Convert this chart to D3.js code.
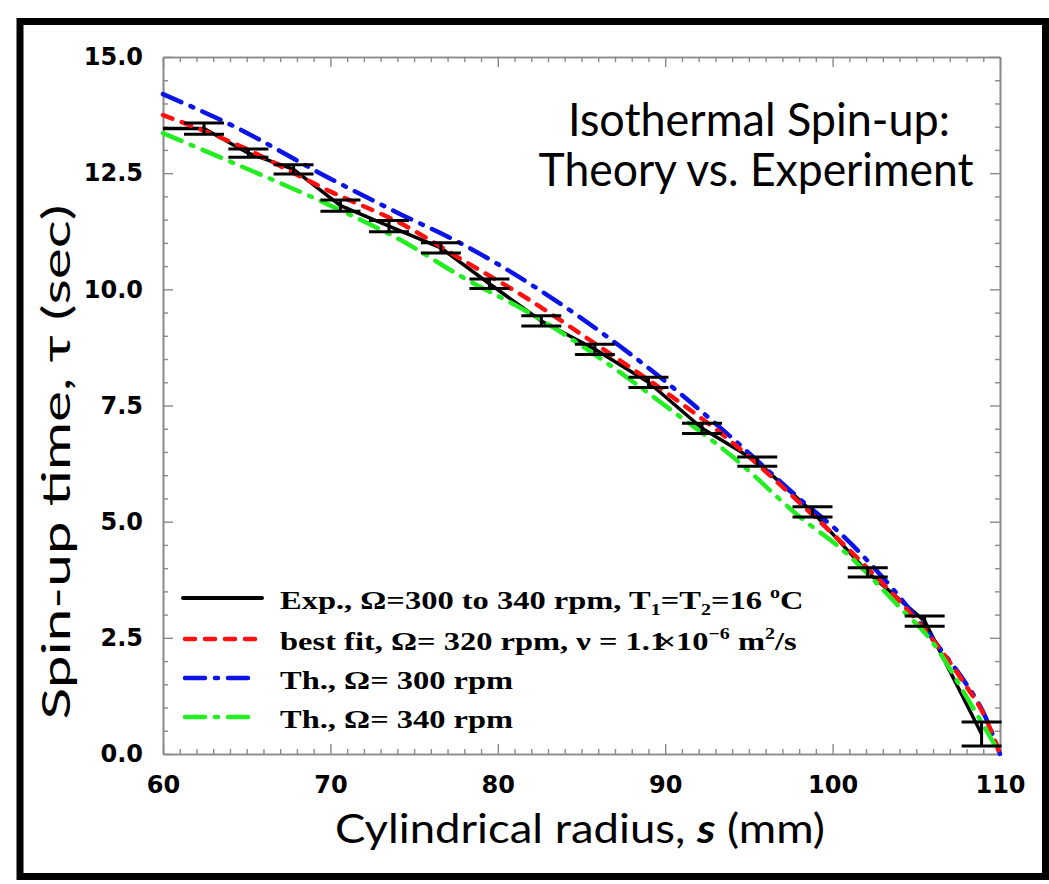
<!DOCTYPE html>
<html><head><meta charset="utf-8">
<script src="https://cdn.jsdelivr.net/npm/d3@7"></script>
<style>body{margin:0;background:#fff}</style>
</head><body>
<svg id="c" width="1049" height="884"></svg>
<script>
// ---- data ----
const expS   = [60, 62.45, 65.1, 67.8, 70.6, 73.5, 76.6, 79.5, 82.6, 85.8, 89.0, 92.2, 95.5, 98.8, 102.1, 105.5, 108.9];
const expTau = [13.46, 13.46, 12.93, 12.58, 11.80, 11.36, 10.89, 10.12, 9.32, 8.71, 8.00, 7.01, 6.29, 5.21, 3.91, 2.86, 0.43];
const barS   = [62.45, 65.1, 67.8, 70.6, 73.5, 76.6, 79.5, 82.6, 85.8, 89.0, 92.2, 95.5, 98.8, 102.1, 105.5, 108.9];
const barTau = [13.46, 12.93, 12.58, 11.80, 11.36, 10.89, 10.12, 9.32, 8.71, 8.00, 7.01, 6.29, 5.21, 3.91, 2.86, 0.43];
const barErr = [0.12, 0.09, 0.10, 0.12, 0.12, 0.11, 0.10, 0.11, 0.11, 0.11, 0.11, 0.10, 0.11, 0.10, 0.11, 0.26];

const blueS   = [60, 64, 70, 74, 78, 82, 86, 90, 94, 98, 100.6, 103.6, 106.4, 108, 109, 110];
const blueTau = [14.20, 13.55, 12.38, 11.65, 10.95, 10.10, 9.12, 8.02, 6.80, 5.50, 4.70, 3.55, 2.28, 1.50, 0.90, 0];
const redS    = [60, 64.2, 70.2, 74.2, 77.9, 81.9, 86.1, 90.1, 94.05, 98.05, 102, 104.6, 106, 108, 109.1, 110];
const redTau  = [13.75, 13.15, 12.07, 11.42, 10.63, 9.77, 8.76, 7.77, 6.69, 5.40, 4.03, 3.05, 2.45, 1.45, 0.80, 0];
const greenS   = [60, 64.2, 70.2, 74.2, 77.9, 81.9, 86.1, 90.1, 94.05, 98.05, 100.6, 104, 106, 108, 110];
const greenTau = [13.36, 12.72, 11.77, 11.06, 10.26, 9.49, 8.52, 7.47, 6.39, 5.10, 4.39, 3.16, 2.39, 1.23, 0];

const xTickVals = [60, 70, 80, 90, 100, 110];
const xTickLabels = ["60", "70", "80", "90", "100", "110"];
const yTickVals = [0, 2.5, 5, 7.5, 10, 12.5, 15];
const yTickLabels = ["0.0", "2.5", "5.0", "7.5", "10.0", "12.5", "15.0"];

// ---- drawing ----
const svg = d3.select("#c");
svg.append("rect").attr("width", 1049).attr("height", 884).attr("fill", "#fff");
svg.append("rect").attr("x", 20).attr("y", 21.5).attr("width", 1025.5).attr("height", 855)
  .attr("fill", "none").attr("stroke", "#000").attr("stroke-width", 7);

const x = d3.scaleLinear().domain([60, 110]).range([163, 1000]);
const y = d3.scaleLinear().domain([0, 15]).range([754, 57]);

const axisColor = "#8a8a8a";
const xMinor = d3.range(60, 110.01, 1).filter(v => v % 10 !== 0);
const yMinor = d3.range(0, 15.01, 0.5).filter(v => Math.abs(v / 2.5 - Math.round(v / 2.5)) > 1e-6);

function styleAxis(g) {
  g.selectAll("path.domain").attr("stroke", axisColor).attr("stroke-width", 1.6);
  g.selectAll(".tick line").attr("stroke", axisColor).attr("stroke-width", 1.4);
}
const tickFont = g => g.selectAll("text").attr("font-family", "'DejaVu Sans', sans-serif")
  .attr("font-weight", "bold").attr("font-size", 24).attr("fill", "#000");

// bottom
const gB = svg.append("g").attr("transform", `translate(0,${y(0)})`)
  .call(d3.axisBottom(x).tickValues(xTickVals).tickFormat((d, i) => xTickLabels[i]).tickSizeInner(-10).tickSizeOuter(0).tickPadding(22));
gB.call(styleAxis).call(tickFont);
gB.selectAll("text").attr("dy", "0.71em");
svg.append("g").attr("transform", `translate(0,${y(0)})`)
  .call(d3.axisBottom(x).tickValues(xMinor).tickFormat("").tickSizeInner(-5).tickSizeOuter(0)).call(styleAxis);
// top
svg.append("g").attr("transform", `translate(0,${y(15)})`)
  .call(d3.axisTop(x).tickValues(xTickVals).tickFormat("").tickSizeInner(-10).tickSizeOuter(0)).call(styleAxis);
svg.append("g").attr("transform", `translate(0,${y(15)})`)
  .call(d3.axisTop(x).tickValues(xMinor).tickFormat("").tickSizeInner(-5).tickSizeOuter(0)).call(styleAxis);
// left
const gL = svg.append("g").attr("transform", `translate(${x(60)},0)`)
  .call(d3.axisLeft(y).tickValues(yTickVals).tickFormat((d, i) => yTickLabels[i]).tickSizeInner(-10).tickSizeOuter(0).tickPadding(20));
gL.call(styleAxis).call(tickFont);
svg.append("g").attr("transform", `translate(${x(60)},0)`)
  .call(d3.axisLeft(y).tickValues(yMinor).tickFormat("").tickSizeInner(-5).tickSizeOuter(0)).call(styleAxis);
// right
svg.append("g").attr("transform", `translate(${x(110)},0)`)
  .call(d3.axisRight(y).tickValues(yTickVals).tickFormat("").tickSizeInner(-10).tickSizeOuter(0)).call(styleAxis);
svg.append("g").attr("transform", `translate(${x(110)},0)`)
  .call(d3.axisRight(y).tickValues(yMinor).tickFormat("").tickSizeInner(-5).tickSizeOuter(0)).call(styleAxis);

// series
const line = d3.line().x(d => x(d[0])).y(d => y(d[1]));
const smooth = d3.line().x(d => x(d[0])).y(d => y(d[1])).curve(d3.curveMonotoneX);
const zip = (a, b) => a.map((v, i) => [v, b[i]]);

const styles = {
  exp:   {stroke: "#000", width: 3.5, dash: null},
  red:   {stroke: "#ff1010", width: 4.5, dash: "10,10"},
  blue:  {stroke: "#0a14e6", width: 4.5, dash: "20,10,3,10"},
  green: {stroke: "#22ee22", width: 4.5, dash: "20,10,3,10"}
};

svg.append("path").datum(zip(expS, expTau)).attr("d", line)
  .attr("fill", "none").attr("stroke", styles.exp.stroke).attr("stroke-width", styles.exp.width).attr("stroke-linejoin", "round");

[["blue", blueS, blueTau], ["red", redS, redTau], ["green", greenS, greenTau]].forEach(([k, s, t]) => {
  const st = styles[k];
  svg.append("path").datum(zip(s, t)).attr("d", smooth)
    .attr("fill", "none").attr("stroke", st.stroke).attr("stroke-width", st.width)
    .attr("stroke-dasharray", st.dash).attr("stroke-linecap", "round");
});

// error bars
const bars = svg.append("g").attr("stroke", "#000").attr("stroke-width", 3);
barS.forEach((s, i) => {
  const cx = x(s), y1 = y(barTau[i] + barErr[i]), y2 = y(barTau[i] - barErr[i]);
  bars.append("line").attr("x1", cx).attr("x2", cx).attr("y1", y1).attr("y2", y2);
  bars.append("line").attr("x1", cx - 20).attr("x2", cx + 20).attr("y1", y1).attr("y2", y1);
  bars.append("line").attr("x1", cx - 20).attr("x2", cx + 20).attr("y1", y2).attr("y2", y2);
});

// titles
const sansFont = "Lato, 'Open Sans', sans-serif";
const title = svg.append("g").attr("font-family", sansFont).attr("font-size", 46).attr("fill", "#000").attr("text-anchor", "middle");
title.append("text").attr("x", 759).attr("y", 136).attr("textLength", 382).attr("lengthAdjust", "spacingAndGlyphs").text("Isothermal Spin-up:");
title.append("text").attr("x", 756).attr("y", 186).attr("textLength", 435).attr("lengthAdjust", "spacingAndGlyphs").text("Theory vs. Experiment");

svg.append("text").attr("transform", "translate(70,462) rotate(-90)")
  .attr("font-family", sansFont).attr("font-size", 39).attr("text-anchor", "middle")
  .attr("textLength", 515).attr("lengthAdjust", "spacingAndGlyphs")
  .text("Spin-up time, τ (sec)");

const xt = svg.append("text").attr("x", 580).attr("y", 843)
  .attr("font-family", sansFont).attr("font-size", 40).attr("text-anchor", "middle")
  .attr("textLength", 490).attr("lengthAdjust", "spacingAndGlyphs");
xt.append("tspan").text("Cylindrical radius, ");
xt.append("tspan").attr("font-weight", "bold").attr("font-style", "italic").text("s");
xt.append("tspan").text(" (mm)");

// legend
const legendRows = [
  {k: "exp", parts: [["n", "Exp., Ω=300 to 340 rpm, T"], ["sub", "1"], ["n", "=T"], ["sub", "2"], ["n", "=16 "], ["sup", "o"], ["n", "C"]]},
  {k: "red", parts: [["n", "best fit, Ω= 320 rpm, ν = 1.1"], ["x", "×"], ["n", "10"], ["sup", "−6"], ["n", " m"], ["sup", "2"], ["n", "/s"]]},
  {k: "blue", parts: [["n", "Th., Ω= 300 rpm"]]},
  {k: "green", parts: [["n", "Th., Ω= 340 rpm"]]}
];
const rowY = [598, 639, 678, 717];
legendRows.forEach((r, i) => {
  const st = styles[r.k];
  const ly = rowY[i];
  svg.append("line").attr("x1", r.k === "exp" ? 183 : 185).attr("x2", r.k === "exp" ? 262 : 255)
    .attr("y1", ly).attr("y2", ly)
    .attr("stroke", st.stroke).attr("stroke-width", r.k === "exp" ? 4 : 4.5)
    .attr("stroke-dasharray", st.dash).attr("stroke-linecap", "round");
  const g = svg.append("g").attr("transform", `translate(280,${ly + 11}) scale(1.25,1)`);
  const t = g.append("text").attr("font-family", "'Liberation Serif', 'Times New Roman', serif")
    .attr("font-weight", "bold").attr("font-size", 26).attr("fill", "#000");
  let shift = 0;
  r.parts.forEach(([type, s]) => {
    const ts = t.append("tspan").text(s);
    if (type === "sub") { ts.attr("font-size", 16).attr("dy", 6 - shift); shift = 6; }
    else if (type === "sup") { ts.attr("font-size", 16).attr("dy", -11 - shift); shift = -11; }
    else if (type === "x") { ts.attr("dx", -7).attr("font-weight", 900).attr("dy", -shift); shift = 0; }
    else { if (shift !== 0) ts.attr("dy", -shift); shift = 0; }
  });
});
</script>
</body></html>
